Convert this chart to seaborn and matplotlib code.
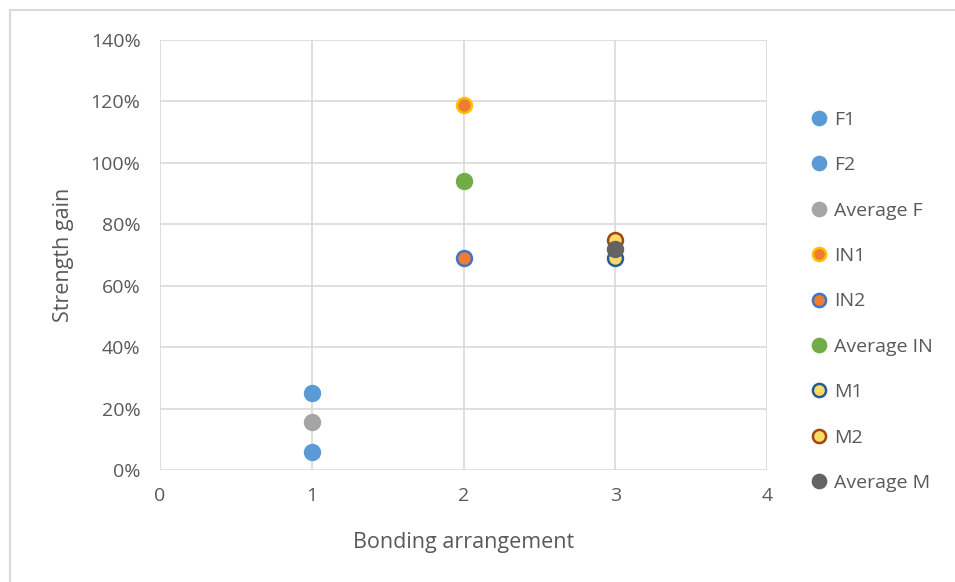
import matplotlib
matplotlib.use("Agg")
import matplotlib.pyplot as plt
import seaborn as sns
import pandas as pd
from matplotlib.lines import Line2D
from matplotlib.ticker import PercentFormatter

# Strength gain per bonding arrangement
series = ["F1", "F2", "Average F", "IN1", "IN2", "Average IN", "M1", "M2", "Average M"]
arrangement = [1, 1, 1, 2, 2, 2, 3, 3, 3]
gain = [0.25, 0.06, 0.155, 1.19, 0.69, 0.94, 0.69, 0.75, 0.72]

face_colors = ["#5B9BD5", "#5B9BD5", "#A5A5A5", "#ED7D31", "#ED7D31", "#70AD47",
               "#FFD966", "#FFD966", "#636363"]
edge_colors = ["#5B9BD5", "#5B9BD5", "#A5A5A5", "#FFC000", "#4472C4", "#70AD47",
               "#255E91", "#9E480E", "#636363"]

df = pd.DataFrame({"series": series, "arrangement": arrangement, "gain": gain})

sns.set_theme(style="white")
plt.rcParams["font.family"] = ["Open Sans", "DejaVu Sans"]
text_color = "#595959"

fig = plt.figure(figsize=(9.55, 5.82), dpi=100)
ax = fig.add_axes([160 / 955, 1 - 470 / 582, (767 - 160) / 955, (470 - 40) / 582])

handles = []
for name, fc, ec in zip(series, face_colors, edge_colors):
    sub = df[df["series"] == name]
    sns.scatterplot(data=sub, x="arrangement", y="gain", ax=ax, s=115,
                    color=fc, edgecolor=ec, linewidth=1.8, zorder=3, legend=False)
    handles.append(Line2D([], [], marker="o", linestyle="", markersize=9.5,
                          markerfacecolor=fc, markeredgecolor=ec,
                          markeredgewidth=1.8, label=name))

ax.set_xlim(0, 4)
ax.set_ylim(0, 1.4)
ax.set_xticks([0, 1, 2, 3, 4])
ax.set_yticks([i * 0.2 for i in range(8)])
ax.yaxis.set_major_formatter(PercentFormatter(1.0, decimals=0))
ax.grid(True, color="#D9D9D9", linewidth=1.2)
ax.set_axisbelow(True)
for sp in ax.spines.values():
    sp.set_visible(False)
ax.tick_params(axis="both", length=0, labelsize=14, colors=text_color)
ax.tick_params(axis="y", pad=14)
ax.tick_params(axis="x", pad=12)
ax.set_xlabel("Bonding arrangement", fontsize=15.5, color=text_color, labelpad=20)
ax.set_ylabel("Strength gain", fontsize=15.5, color=text_color, labelpad=12)

leg = fig.legend(handles=handles, loc="upper left", bbox_to_anchor=(801 / 955, 1 - 103 / 582),
                 frameon=False, fontsize=14, labelspacing=1.41, handletextpad=0.3,
                 handlelength=1.0, borderaxespad=0)
for t in leg.get_texts():
    t.set_color(text_color)

# chart area border (top and left edges)
fig.add_artist(Line2D([10 / 955, 10 / 955, 1.0], [0.0, 1 - 10 / 582, 1 - 10 / 582],
                      transform=fig.transFigure, color="#D9D9D9", linewidth=1.5))

fig.savefig("out.png", dpi=100)
